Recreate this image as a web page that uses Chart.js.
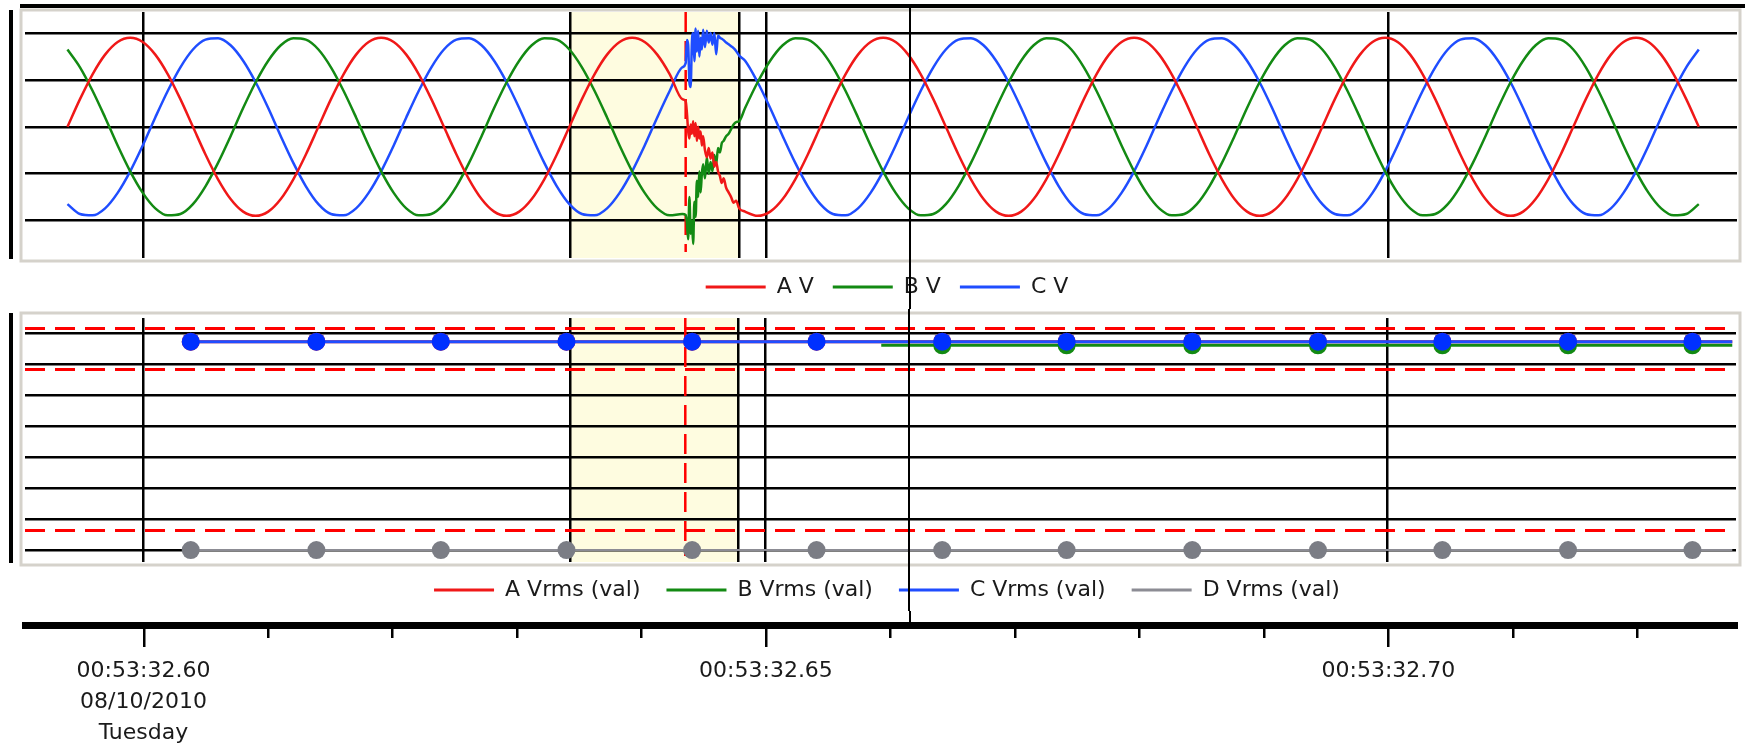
<!DOCTYPE html>
<html lang="en">

<head>
  <meta charset="UTF-8">
  <meta name="viewport" content="width=device-width, initial-scale=1.0">
  <title>Waveform / RMS</title>
  <style>
    body { margin: 0; background: #fff; }
    .tela { position: relative; width: 1745px; height: 750px; overflow: hidden; background: #fff; }
    .tela canvas { position: absolute; left: 0; }
  </style>
</head>

<body>
  <div class="tela">
    <canvas id="waveCanvas" width="1745" height="309" style="top:0"></canvas>
    <canvas id="rmsCanvas" width="1745" height="311" style="top:309px"></canvas>
    <canvas id="axisCanvas" width="1745" height="139" style="top:611px"></canvas>
  </div>
</body>

</html>

<script src="https://cdn.jsdelivr.net/npm/chart.js"></script>
<script>
  // time axis, ms after 00:53:32.600
  const xMin = -9.52;
  const xMax = 128.0;
  const majorTicks = [0, 50, 100];
  const majorLabels = [
    ['00:53:32.60', '08/10/2010', 'Tuesday'],
    ['00:53:32.65'],
    ['00:53:32.70']
  ];
  const minorTicks = [10, 20, 30, 40, 60, 70, 80, 90, 110, 120];

  // highlighted window, trigger and cursor (ms)
  const bandStart = 34.26;
  const bandEnd = 47.8;
  const triggerT = 43.55;
  const cursorT = 61.57;

  // instantaneous voltage (V), one sample every 1.008 ms from -6.11 ms
  const waveStart = -6.11;
  const waveStep = 1.008;
  const waveA = [
    0, 59, 112, 154, 181, 190, 181, 154, 112, 59, 0, -59, -112, -154, -181, -190, -181, -154, -112, -59,
    0, 59, 112, 154, 181, 190, 181, 154, 112, 59, 0, -59, -112, -154, -181, -190, -181, -154, -112, -59,
    0, 59, 112, 154, 181, 190, 181, 154, 112, 59, null, null, null, null, -181, -190, -181, -154, -112, -59,
    0, 59, 112, 154, 181, 190, 181, 154, 112, 59, 0, -59, -112, -154, -181, -190, -181, -154, -112, -59,
    0, 59, 112, 154, 181, 190, 181, 154, 112, 59, 0, -59, -112, -154, -181, -190, -181, -154, -112, -59,
    0, 59, 112, 154, 181, 190, 181, 154, 112, 59, 0, -59, -112, -154, -181, -190, -181, -154, -112, -59,
    0, 59, 112, 154, 181, 190, 181, 154, 112, 59, 0
  ];
  const waveB = [
    165, 127, 77, 20, -40, -95, -141, -174, -189, -186, -165, -127, -77, -20, 40, 95, 141, 174, 189, 186,
    165, 127, 77, 20, -40, -95, -141, -174, -189, -186, -165, -127, -77, -20, 40, 95, 141, 174, 189, 186,
    165, 127, 77, 20, -40, -95, -141, -174, -189, -186, null, null, null, null, 40, 95, 141, 174, 189, 186,
    165, 127, 77, 20, -40, -95, -141, -174, -189, -186, -165, -127, -77, -20, 40, 95, 141, 174, 189, 186,
    165, 127, 77, 20, -40, -95, -141, -174, -189, -186, -165, -127, -77, -20, 40, 95, 141, 174, 189, 186,
    165, 127, 77, 20, -40, -95, -141, -174, -189, -186, -165, -127, -77, -20, 40, 95, 141, 174, 189, 186,
    165, 127, 77, 20, -40, -95, -141, -174, -189, -186, -165
  ];
  const waveC = [
    -165, -186, -189, -174, -141, -95, -40, 20, 77, 127, 165, 186, 189, 174, 141, 95, 40, -20, -77, -127,
    -165, -186, -189, -174, -141, -95, -40, 20, 77, 127, 165, 186, 189, 174, 141, 95, 40, -20, -77, -127,
    -165, -186, -189, -174, -141, -95, -40, 20, 77, 127, null, null, null, null, 141, 95, 40, -20, -77, -127,
    -165, -186, -189, -174, -141, -95, -40, 20, 77, 127, 165, 186, 189, 174, 141, 95, 40, -20, -77, -127,
    -165, -186, -189, -174, -141, -95, -40, 20, 77, 127, 165, 186, 189, 174, 141, 95, 40, -20, -77, -127,
    -165, -186, -189, -174, -141, -95, -40, 20, 77, 127, 165, 186, 189, 174, 141, 95, 40, -20, -77, -127,
    -165, -186, -189, -174, -141, -95, -40, 20, 77, 127, 165
  ];

  // disturbance after the trigger, read at finer spacing
  const burstT = [43.55, 43.65, 43.75, 43.85, 43.95, 44.05, 44.15, 44.25, 44.35, 44.45, 44.55, 44.65, 44.75, 44.85, 44.95, 45.1,
    45.25, 45.4, 45.55, 45.7, 45.85, 46.0, 46.15, 46.3, 46.45, 46.6, 46.8, 47.0, 47.2, 47.4, 47.6, 47.85];
  const burstA = [55, 30, -10, -25, 5, -15, 12, -20, 8, -30, 0, -25, -10, -40, -20, -50,
    -65, -45, -68, -55, -85, -75, -95, -105, -120, -110, -130, -140, -150, -162, -158, -174];
  const burstB = [-188, -205, -240, -150, -228, -200, -250, -160, -192, -115, -150, -95, -140, -100, -80, -110,
    -65, -100, -75, -95, -60, -80, -45, -55, -35, -30, -20, -15, -5, 5, 10, 12];
  const burstC = [136, 185, 175, 95, 85, 180, 200, 140, 210, 160, 205, 150, 190, 165, 207, 170,
    205, 180, 200, 175, 200, 155, 195, 190, 188, 185, 180, 176, 172, 168, 162, 152];

  // half-cycle rms (V); the last time is the end of the trace
  const rmsT = [3.8, 13.9, 23.9, 34.0, 44.1, 54.1, 64.2, 74.2, 84.3, 94.4, 104.4, 114.5, 124.5, 127.7];
  const rmsA = [134.3, 134.3, 134.3, 134.3, 134.3, 134.3, 134.3, 134.3, 134.3, 134.3, 134.3, 134.3, 134.3, 134.3];
  const rmsC = [134.3, 134.3, 134.3, 134.3, 134.3, 134.3, 134.3, 134.3, 134.3, 134.3, 134.3, 134.3, 134.3, 134.3];
  const rmsD = [0, 0, 0, 0, 0, 0, 0, 0, 0, 0, 0, 0, 0, 0];
  const rmsBT = [59.3, 64.2, 74.2, 84.3, 94.4, 104.4, 114.5, 124.5, 127.7];
  const rmsB = [132, 132, 132, 132, 132, 132, 132, 132, 132];
  const rmsEndT = 127.7;
  const limitLines = [143, 117, 13];

  const waveGrid = [-200, -100, 0, 100, 200];
  const rmsGrid = [0, 20, 40, 60, 80, 100, 120, 140];

  Chart.defaults.font.family = '"DejaVu Sans", sans-serif';
  Chart.defaults.font.size = 22;
  Chart.defaults.color = '#1a1a1a';

  const corA = '#f01818';
  const corB = '#138a13';
  const corC = '#1f4dff';
  const corD = '#8c8c94';

  function pontosOnda(amostras, rajada) {
    const pts = [];
    amostras.forEach((v, i) => {
      if (v !== null) pts.push({ x: +(waveStart + i * waveStep).toFixed(3), y: v });
    });
    burstT.forEach((t, i) => pts.push({ x: t, y: rajada[i] }));
    return pts.sort((p, q) => p.x - q.x);
  }

  function pontos(ts, vs) {
    return ts.map((t, i) => ({ x: t, y: vs[i] }));
  }

  const panelPlugin = {
    id: 'panel',
    afterLayout(chart, args, o) {
      const lg = chart.legend;
      if (!lg) return;
      lg.left += o.legendDX || 0;
      lg.right += o.legendDX || 0;
      lg.top += o.legendDY || 0;
      lg.bottom += o.legendDY || 0;
    },
    beforeDraw(chart, args, o) {
      const { ctx, chartArea: a, scales: { x } } = chart;
      const f = o.frame;
      ctx.save();
      if (o.topRule) {
        ctx.fillStyle = '#000';
        ctx.fillRect(20, 4, chart.width - 20, 4);
      }
      ctx.strokeStyle = '#d5d2cb';
      ctx.lineWidth = 3;
      ctx.strokeRect(f[0], f[1], f[2] - f[0], f[3] - f[1]);
      ctx.fillStyle = '#000';
      ctx.fillRect(9, f[1], 4, f[3] - f[1] - 2);
      const b0 = x.getPixelForValue(bandStart);
      const b1 = x.getPixelForValue(bandEnd);
      ctx.fillStyle = 'rgb(254, 252, 224)';
      ctx.fillRect(b0, a.top, b1 - b0, a.bottom - a.top);
      ctx.restore();
    },
    beforeDatasetsDraw(chart, args, o) {
      const { ctx, chartArea: a, scales: { x, y } } = chart;
      ctx.save();
      ctx.fillStyle = '#000';
      [bandStart, bandEnd].forEach(t => {
        ctx.fillRect(Math.round(x.getPixelForValue(t)) - 1, a.top, 2.5, a.bottom - a.top);
      });
      ctx.strokeStyle = '#ff0000';
      ctx.lineWidth = 3;
      ctx.setLineDash([20, 10]);
      (o.limits || []).forEach(v => {
        const py = Math.round(y.getPixelForValue(v)) + 0.5;
        ctx.beginPath();
        ctx.moveTo(a.left, py);
        ctx.lineTo(a.right - 4, py);
        ctx.stroke();
      });
      ctx.lineWidth = 2.5;
      ctx.setLineDash([20, 9]);
      const px = x.getPixelForValue(triggerT);
      ctx.beginPath();
      ctx.moveTo(px, a.top);
      ctx.lineTo(px, a.bottom - 6);
      ctx.stroke();
      ctx.restore();
    },
    afterDraw(chart, args, o) {
      const { ctx, scales: { x } } = chart;
      ctx.save();
      ctx.fillStyle = '#000';
      ctx.fillRect(Math.round(x.getPixelForValue(cursorT)) - 1, o.cursor[0], 2, o.cursor[1] - o.cursor[0]);
      ctx.restore();
    }
  };

  const axisPlugin = {
    id: 'timeAxis',
    afterDraw(chart) {
      const { ctx, scales: { x } } = chart;
      const y0 = x.top;
      ctx.save();
      ctx.fillStyle = '#000';
      majorTicks.forEach(v => ctx.fillRect(Math.round(x.getPixelForValue(v)) - 1, y0, 2.5, 22));
      minorTicks.forEach(v => ctx.fillRect(Math.round(x.getPixelForValue(v)) - 1, y0, 2.5, 13));
      ctx.fillRect(Math.round(x.getPixelForValue(cursorT)) - 1, 0, 2, y0);
      ctx.restore();
    }
  };

  function eixoX() {
    return {
      type: 'linear',
      min: xMin,
      max: xMax,
      afterBuildTicks: s => { s.ticks = majorTicks.map(v => ({ value: v })); },
      afterFit: s => { s.height = 0; },
      grid: { color: '#000', lineWidth: 2.5, drawTicks: false },
      border: { display: false },
      ticks: { display: false }
    };
  }

  function eixoY(min, max, linhas) {
    return {
      type: 'linear',
      min: min,
      max: max,
      afterBuildTicks: s => { s.ticks = linhas.map(v => ({ value: v })); },
      afterFit: s => { s.width = 0; },
      grid: { color: '#000', lineWidth: 2.5, drawTicks: false },
      border: { display: false },
      ticks: { display: false }
    };
  }

  function legenda(espaco) {
    return {
      position: 'bottom',
      labels: {
        usePointStyle: true,
        pointStyle: 'line',
        pointStyleWidth: 60,
        padding: espaco,
        color: '#1a1a1a',
        font: { size: 22 },
        sort: (a, b) => a.datasetIndex - b.datasetIndex,
        generateLabels: chart => Chart.defaults.plugins.legend.labels.generateLabels(chart)
          .map(item => Object.assign(item, { lineWidth: 3, pointStyle: 'line' }))
      }
    };
  }

  function linhaOnda(label, pts, cor) {
    return {
      label: label, data: pts, borderColor: cor, backgroundColor: cor,
      borderWidth: 2.5, pointRadius: 0, cubicInterpolationMode: 'monotone'
    };
  }

  const markR = c => (c.raw && c.raw.x < rmsEndT && rmsT.includes(c.raw.x)) ? 9 : 0;

  function linhaRms(label, pts, cor, marcador, largura, ordem) {
    return {
      label: label, data: pts, borderColor: cor, backgroundColor: cor,
      borderWidth: largura, pointRadius: markR, pointBackgroundColor: marcador,
      pointBorderWidth: 0, tension: 0, order: ordem
    };
  }

  // top panel: chart area 12..258, legend row at y 287
  new Chart(document.getElementById('waveCanvas'), {
    type: 'line',
    data: {
      datasets: [
        linhaOnda('A V', pontosOnda(waveA, burstA), corA),
        linhaOnda('B V', pontosOnda(waveB, burstB), corB),
        linhaOnda('C V', pontosOnda(waveC, burstC), corC)
      ]
    },
    options: {
      responsive: false,
      animation: false,
      events: [],
      devicePixelRatio: 1,
      layout: { padding: { left: 25, right: 8, top: 12, bottom: 0 } },
      scales: { x: eixoX(), y: eixoY(-280, 245, waveGrid) },
      plugins: {
        legend: legenda(19),
        tooltip: { enabled: false },
        panel: { frame: [21, 10, 1740, 261], topRule: true, cursor: [5, 309], legendDX: 6, legendDY: -1 }
      }
    },
    plugins: [panelPlugin]
  });

  // bottom panel: chart area 317..562 (page), legend row at y 590
  new Chart(document.getElementById('rmsCanvas'), {
    type: 'line',
    data: {
      datasets: [
        linhaRms('A Vrms (val)', pontos(rmsT, rmsA), corA, corA, 3, 2),
        linhaRms('B Vrms (val)', pontos(rmsBT, rmsB), corB, corB, 3, 1),
        linhaRms('C Vrms (val)', pontos(rmsT, rmsC), corC, '#0030ff', 3, 0),
        linhaRms('D Vrms (val)', pontos(rmsT, rmsD), corD, '#7b7d85', 2, 3)
      ]
    },
    options: {
      responsive: false,
      animation: false,
      events: [],
      devicePixelRatio: 1,
      layout: { padding: { left: 25, right: 8, top: 8, bottom: 0 } },
      scales: { x: eixoX(), y: eixoY(-7.7, 149.6, rmsGrid) },
      plugins: {
        legend: legenda(26),
        tooltip: { enabled: false },
        panel: { frame: [21, 4, 1740, 256], limits: limitLines, cursor: [0, 302], legendDX: 6, legendDY: -9 }
      }
    },
    plugins: [panelPlugin]
  });

  new Chart(document.getElementById('axisCanvas'), {
    type: 'line',
    data: { datasets: [] },
    options: {
      responsive: false,
      animation: false,
      events: [],
      devicePixelRatio: 1,
      layout: { padding: { left: 25, right: 8, top: 2, bottom: 0 } },
      scales: {
        x: {
          type: 'linear',
          position: 'bottom',
          min: xMin,
          max: xMax,
          afterBuildTicks: s => { s.ticks = majorTicks.map(v => ({ value: v })); },
          afterFit: s => { s.height = 125; },
          grid: { display: false, drawTicks: false },
          border: { display: true, color: '#000', width: 7 },
          ticks: {
            autoSkip: false,
            maxRotation: 0,
            padding: 31,
            color: '#1a1a1a',
            font: { size: 22, lineHeight: 1.4 },
            callback: v => {
              const i = majorTicks.indexOf(v);
              return i >= 0 ? majorLabels[i] : '';
            }
          }
        },
        y: { display: false }
      },
      plugins: { legend: { display: false }, tooltip: { enabled: false } }
    },
    plugins: [axisPlugin]
  });
</script>
